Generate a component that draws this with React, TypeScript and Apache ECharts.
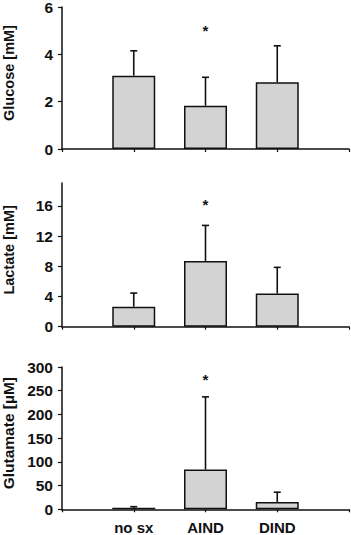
import React, { useEffect, useRef } from "react";
import * as echarts from "echarts";

const categories = ["", "no sx", "AIND", "DIND", ""];

const glucoseMean = [3.1, 1.83, 2.82];
const glucoseUpper = [4.15, 3.03, 4.36];
const glucoseStar = 5.15;

const lactateMean = [2.65, 8.68, 4.4];
const lactateUpper = [4.45, 13.4, 7.85];
const lactateStar = 16.5;

const glutamateMean = [3.5, 84, 15.5];
const glutamateUpper = [5.5, 237, 36];
const glutamateStar = 281;

const glucoseTicks = [0, 2, 4, 6];
const lactateTicks = [0, 4, 8, 12, 16];
const glutamateTicks = [0, 50, 100, 150, 200, 250, 300];

const FONT = "'Liberation Sans', Arial, sans-serif";
const INK = "#111";

export default function App() {
  const ref = useRef<HTMLDivElement>(null);
  useEffect(() => {
    if (!ref.current) return;
    const chart = echarts.init(ref.current, undefined, { renderer: "svg" });

    const panels = [
      { name: "Glucose [mM]", mean: glucoseMean, upper: glucoseUpper, star: glucoseStar, ticks: glucoseTicks, max: 6, top: 7, height: 142, nameSize: 14.5 },
      { name: "Lactate [mM]", mean: lactateMean, upper: lactateUpper, star: lactateStar, ticks: lactateTicks, max: 19, top: 183.1, height: 143.6, nameSize: 14.5 },
      { name: "Glutamate [µM]", mean: glutamateMean, upper: glutamateUpper, star: glutamateStar, ticks: glutamateTicks, max: 300, top: 367, height: 142.3, nameSize: 15.5 },
    ];

    const grid: any[] = [];
    const xAxis: any[] = [];
    const yAxis: any[] = [];
    const series: any[] = [];

    panels.forEach((p, i) => {
      grid.push({ left: 62, right: 2, top: p.top, height: p.height, containLabel: false, outerBoundsMode: "none" });
      xAxis.push({
        type: "category",
        gridIndex: i,
        data: categories,
        boundaryGap: false,
        axisLine: { lineStyle: { color: INK, width: 1.5 } },
        axisTick: { show: true, length: 3, lineStyle: { color: INK, width: 1.2 } },
        axisLabel: {
          show: i === 2,
          interval: 0,
          fontFamily: FONT,
          fontWeight: "bold",
          fontSize: 15,
          color: INK,
          margin: 11,
        },
        splitLine: { show: false },
      });
      yAxis.push({
        type: "value",
        gridIndex: i,
        min: 0,
        max: p.max,
        name: p.name,
        nameLocation: "middle",
        nameGap: 46,
        nameTextStyle: {
          fontFamily: FONT,
          fontWeight: "bold",
          fontSize: p.nameSize,
          color: INK,
          padding: [0, 0, 0, 10],
        },
        axisLine: { show: true, onZero: false, lineStyle: { color: INK, width: 1.5 } },
        axisTick: { show: true, length: 4, customValues: p.ticks, lineStyle: { color: INK, width: 1.2 } },
        axisLabel: {
          customValues: p.ticks,
          fontFamily: FONT,
          fontWeight: "bold",
          fontSize: 15.5,
          color: INK,
          margin: 9,
        },
        splitLine: { show: false },
      });
      series.push({
        type: "bar",
        xAxisIndex: i,
        yAxisIndex: i,
        barWidth: 43,
        data: ["-", ...p.mean, "-"],
        itemStyle: { color: "#d3d3d3", borderColor: INK, borderWidth: 1.5 },
        z: 2,
      });
      series.push({
        type: "custom",
        xAxisIndex: i,
        yAxisIndex: i,
        encode: { x: 0, y: 1 },
        z: 3,
        data: p.mean.map((m, k) => [k + 1, m, p.upper[k]]),
        renderItem: (params: any, api: any) => {
          const x = api.value(0);
          const a = api.coord([x, api.value(1)]);
          const b = api.coord([x, api.value(2)]);
          const st = { stroke: INK, lineWidth: 1.6 };
          return {
            type: "group",
            children: [
              { type: "line", shape: { x1: a[0], y1: a[1], x2: b[0], y2: b[1] }, style: st },
              { type: "line", shape: { x1: b[0] - 3.5, y1: b[1], x2: b[0] + 3.5, y2: b[1] }, style: st },
            ],
          };
        },
      });
      series.push({
        type: "custom",
        xAxisIndex: i,
        yAxisIndex: i,
        encode: { x: 0, y: 1 },
        z: 4,
        data: [[2, p.star]],
        renderItem: (params: any, api: any) => {
          const c = api.coord([api.value(0), api.value(1)]);
          return {
            type: "text",
            x: c[0],
            y: c[1] + 3,
            style: {
              text: "*",
              fontFamily: FONT,
              fontWeight: "bold",
              fontSize: 15,
              fill: INK,
              align: "center",
              verticalAlign: "middle",
            },
          };
        },
      });
    });

    chart.setOption({
      animation: false,
      backgroundColor: "#fff",
      grid,
      xAxis,
      yAxis,
      series,
    });
    return () => chart.dispose();
  }, []);
  return (
    <div
      ref={ref}
      style={{ position: "absolute", left: 0, top: 0, width: 351, height: 535 }}
    />
  );
}
